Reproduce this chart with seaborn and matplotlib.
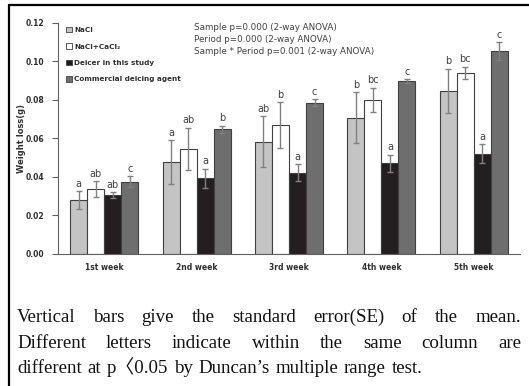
import matplotlib
matplotlib.use("Agg")
import matplotlib.pyplot as plt
import seaborn as sns
import pandas as pd
import numpy as np
from matplotlib.patches import Patch
from matplotlib.lines import Line2D

weeks = ["1st week", "2nd week", "3rd week", "4th week", "5th week"]
samples = ["NaCl", "NaCl+CaCl₂", "Deicer in this study", "Commercial deicing agent"]
nacl = [0.0279, 0.0475, 0.0582, 0.0707, 0.0846]
nacl_cacl2 = [0.0334, 0.0544, 0.0669, 0.0799, 0.0940]
deicer = [0.0305, 0.0392, 0.0421, 0.0470, 0.0520]
commercial = [0.0374, 0.0647, 0.0785, 0.0897, 0.1053]
se_nacl = [0.0045, 0.0115, 0.0132, 0.0133, 0.0115]
se_nacl_cacl2 = [0.0041, 0.0110, 0.0120, 0.0063, 0.0033]
se_deicer = [0.0015, 0.0050, 0.0044, 0.0045, 0.0050]
se_commercial = [0.0027, 0.0019, 0.0018, 0.0010, 0.0046]
letters_nacl = ["a", "a", "ab", "b", "b"]
letters_nacl_cacl2 = ["ab", "ab", "b", "bc", "bc"]
letters_deicer = ["ab", "a", "a", "a", "a"]
letters_commercial = ["c", "b", "c", "c", "c"]
stats_lines = ["Sample p=0.000 (2-way ANOVA)",
               "Period p=0.000 (2-way ANOVA)",
               "Sample * Period p=0.001 (2-way ANOVA)"]
caption_lines = ["Vertical bars give the standard error(SE) of the mean.",
                 "Different letters indicate within the same column are",
                 "different at p〈0.05 by Duncan’s multiple range test."]

values = [nacl, nacl_cacl2, deicer, commercial]
ses = [se_nacl, se_nacl_cacl2, se_deicer, se_commercial]
letters = [letters_nacl, letters_nacl_cacl2, letters_deicer, letters_commercial]
colors = ["#c4c4c4", "#ffffff", "#231f20", "#6e6e6e"]

df = pd.DataFrame({
    "week": np.repeat([weeks], 4, axis=0).ravel(),
    "sample": np.repeat(samples, 5),
    "value": np.concatenate(values),
})

sns.set_theme(style="white")
plt.rcParams['font.family'] = ['DejaVu Sans']

fig = plt.figure(figsize=(5.29, 3.86), dpi=100)
ax = fig.add_axes([58/529, 1 - 253.5/386, (520-58)/529, (253.5-23)/386])

sns.barplot(data=df, x="week", y="value", hue="sample", order=weeks,
            hue_order=samples, palette=colors, width=0.736,
            edgecolor="#404040", linewidth=0.8, errorbar=None, ax=ax,
            legend=False, saturation=1)

txtc = "#404040"
bar_conts = list(ax.containers)
for i, cont in enumerate(bar_conts):
    xs = [b.get_x() + b.get_width() / 2 for b in cont]
    ax.errorbar(xs, values[i], yerr=ses[i], fmt="none", ecolor="#808080",
                elinewidth=1.0, capsize=2.2, capthick=1.0, zorder=5)
    for x, v, s, l in zip(xs, values[i], ses[i], letters[i]):
        ax.annotate(l, (x, v + s), xytext=(0, 3.2), textcoords="offset points",
                    ha="center", va="baseline", fontsize=7, color=txtc)

ax.set_ylim(0, 0.12)
ax.set_xlim(-0.5, 4.5)
ax.set_yticks([0, 0.02, 0.04, 0.06, 0.08, 0.10, 0.12])
ax.set_yticklabels(["0.00", "0.02", "0.04", "0.06", "0.08", "0.10", "0.12"],
                   fontsize=5.5, fontweight="bold", color="#303030")
ax.set_xticks(range(5))
ax.set_xticklabels(weeks, fontsize=5.5, fontweight="bold", color="#303030")
ax.set_xticks([-0.5, 0.5, 1.5, 2.5, 3.5, 4.5], minor=True)
ax.tick_params(axis="x", which="major", length=0, pad=7)
ax.tick_params(axis="x", which="minor", length=4, width=0.8, color="#606060", direction="out")
ax.tick_params(axis="y", length=4, width=0.8, color="#606060", direction="out", left=True, pad=6)
ax.set_xlabel("")
ax.set_ylabel("Weight loss(g)", fontsize=6, fontweight="bold", color="#303030")
ax.yaxis.set_label_coords((26 - 58) / 462, 0.5)
for sp in ["top", "right"]:
    ax.spines[sp].set_visible(False)
for sp in ["left", "bottom"]:
    ax.spines[sp].set_color("#606060")
    ax.spines[sp].set_linewidth(0.8)

handles = [Patch(facecolor=c, edgecolor="#404040", linewidth=0.6) for c in colors]
leg = ax.legend(handles, samples, loc="upper left", bbox_to_anchor=(0.012, 0.995),
                frameon=False, handlelength=0.75, handleheight=0.75,
                handletextpad=0.3, labelspacing=1.42, borderaxespad=0,
                prop={"size": 5.2, "weight": "bold"})
for t in leg.get_texts():
    t.set_color("#303030")

for k, s in enumerate(stats_lines):
    fig.text(194/529, 1 - (28 + 12*k)/386, s, fontsize=6.3, color=txtc, va="center", ha="left")

# frame lines
fig.add_artist(Line2D([8.5/529, 8.5/529], [0, 1 - 4.5/386], color="black", lw=1.6,
                      transform=fig.transFigure))
fig.add_artist(Line2D([8.5/529, 1], [1 - 4.5/386, 1 - 4.5/386], color="black", lw=1.6,
                      transform=fig.transFigure))

# caption with justified lines
fig.canvas.draw()
renderer = fig.canvas.get_renderer()
left_px, right_px = 17, 521
ys = [322, 348, 373]
cap_font = dict(fontsize=13.6, family=["Liberation Serif", "Noto Sans CJK KR"], color="#111111")
space_w = fig.text(0, 0, " ", alpha=0, **cap_font).get_window_extent(renderer).width
for li, (line, y) in enumerate(zip(caption_lines, ys)):
    words = line.split(" ")
    texts = [fig.text(0, 1 - y/386, w, va="baseline", ha="left", **cap_font) for w in words]
    widths = [t.get_window_extent(renderer).width for t in texts]
    if li < len(caption_lines) - 1:
        gap = (right_px - left_px - sum(widths)) / (len(words) - 1)
    else:
        gap = space_w * 1.2
    x = left_px
    for t, w in zip(texts, widths):
        t.set_x(x / 529)
        x += w + gap

fig.savefig("out.png", dpi=100)
